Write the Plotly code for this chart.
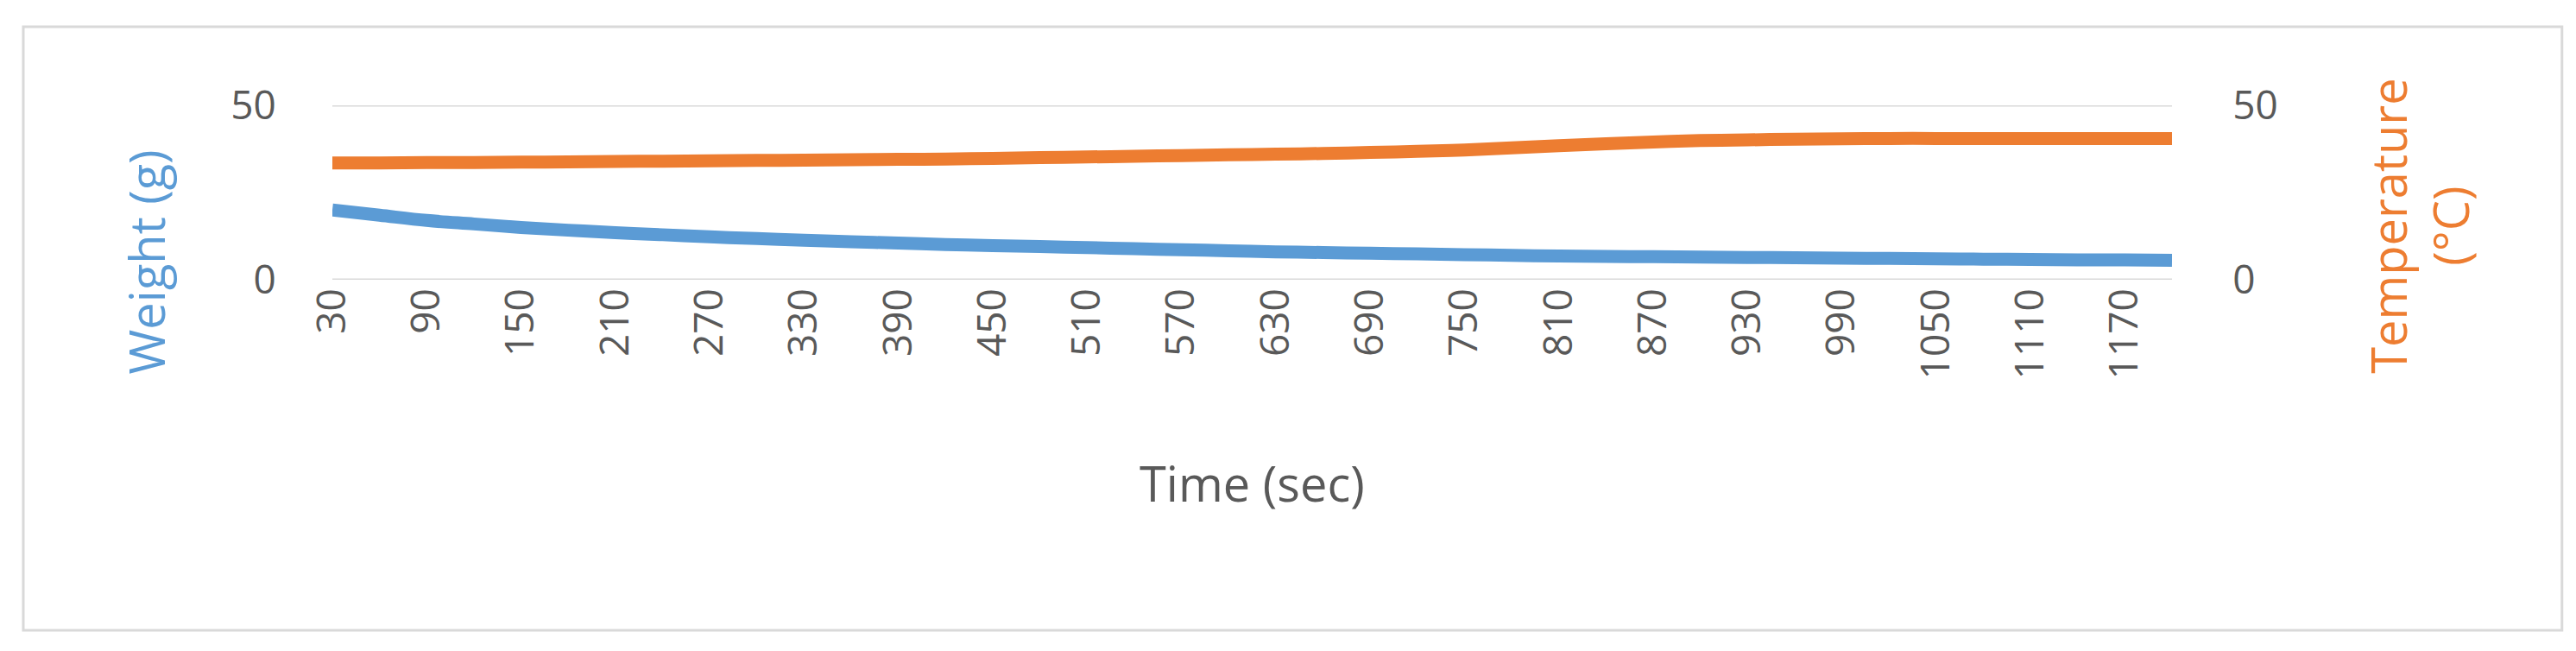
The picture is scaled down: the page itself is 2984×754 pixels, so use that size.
import plotly.graph_objects as go

time_s = list(range(30, 1201, 30))
weight_g = [20, 18.5, 17, 16, 15, 14.2, 13.5, 12.9, 12.3, 11.8, 11.3, 10.9, 10.5, 10.1, 9.8, 9.5,
            9.2, 8.9, 8.6, 8.3, 8.0, 7.8, 7.6, 7.4, 7.2, 7.0, 6.8, 6.7, 6.6, 6.5, 6.4, 6.3,
            6.2, 6.1, 6.0, 5.9, 5.8, 5.7, 5.7, 5.6]
temp_c = [33.5, 33.5, 33.6, 33.6, 33.7, 33.8, 33.9, 34.0, 34.1, 34.2, 34.3, 34.4, 34.5, 34.6, 34.8, 35.0,
          35.2, 35.4, 35.6, 35.8, 36.0, 36.2, 36.5, 36.8, 37.2, 37.8, 38.4, 39.0, 39.5, 39.9, 40.1, 40.3,
          40.4, 40.5, 40.5, 40.5, 40.5, 40.5, 40.5, 40.5]
tick_labels = [str(t) for t in time_s[::2]]

cats = [str(t) for t in time_s]
fig = go.Figure()
fig.add_trace(go.Scatter(x=cats, y=weight_g, mode="lines", line=dict(color="#5B9BD5", width=15, shape="spline"), yaxis="y"))
fig.add_trace(go.Scatter(x=cats, y=temp_c, mode="lines", line=dict(color="#ED7D31", width=15, shape="spline"), yaxis="y2"))

tf = dict(family="Open Sans", size=46, color="#595959")
fig.update_layout(
    width=2984, height=754, showlegend=False,
    plot_bgcolor="white", paper_bgcolor="white",
    margin=dict(l=377, r=476, t=114, b=438),
    xaxis=dict(type="category", tickmode="array", tickvals=cats[::2], ticktext=tick_labels,
               tickangle=-90, tickfont=tf, showgrid=False, showline=False, ticks="", ticklen=0),
    yaxis=dict(range=[0, 50], dtick=50, tickfont=tf, showgrid=False,
               zeroline=False, ticks="outside", ticklen=55, tickcolor="white"),
    yaxis2=dict(range=[0, 50], dtick=50, tickfont=tf, overlaying="y", side="right",
                showgrid=False, zeroline=False, ticks="outside", ticklen=60, tickcolor="white"),
    shapes=[
        dict(type="line", xref="paper", yref="y", x0=0, x1=1, y0=0, y1=0, layer="below",
             line=dict(color="#D9D9D9", width=3)),
        dict(type="line", xref="paper", yref="y", x0=0, x1=1, y0=50, y1=50, layer="below",
             line=dict(color="#D9D9D9", width=3)),
        dict(type="rect", xref="paper", yref="paper", x0=-0.168, x1=1.212, y0=-2.01, y1=1.45,
             line=dict(color="#D9D9D9", width=3)),
    ],
    annotations=[
        dict(text="Time (sec)", xref="paper", yref="paper", x=0.5, y=-1.36, showarrow=False,
             font=dict(family="Open Sans", size=56, color="#595959")),
        dict(text="Weight (g)", xref="paper", yref="paper", x=-0.12, y=-0.55, textangle=-90, showarrow=False,
             font=dict(family="Open Sans", size=56, color="#5B9BD5")),
        dict(text="Temperature<br>(°C)", xref="paper", yref="paper", x=1.17, y=-0.55, textangle=-90, showarrow=False,
             font=dict(family="Open Sans", size=56, color="#ED7D31")),
    ],
)
fig.write_html("out.html")
